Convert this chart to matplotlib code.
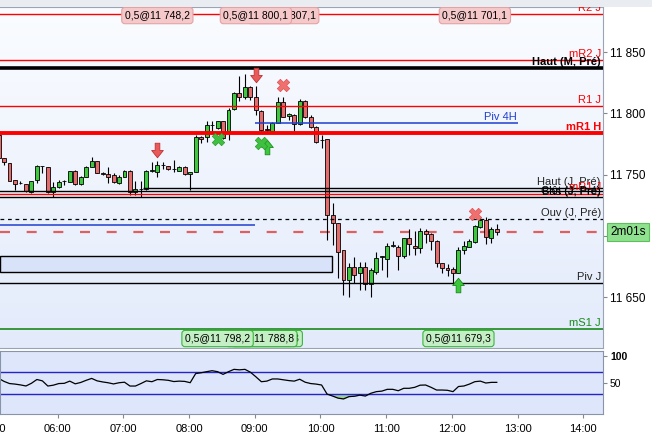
import numpy as np
import matplotlib.pyplot as plt
from matplotlib.colors import LinearSegmentedColormap
from matplotlib.path import Path
from matplotlib.patches import Rectangle
import matplotlib.transforms as mtransforms

plt.rcParams['font.family'] = ['Liberation Sans', 'DejaVu Sans']

# bougies 5 min (prix)
opens = [11782.4, 11763.6, 11759.3, 11745.7, 11743.6, 11742.4, 11736.1, 11745.7, 11757.0, 11756.0,
         11736.1, 11739.7, 11745.0, 11744.3, 11753.3, 11742.2, 11748.4, 11756.3, 11761.4, 11751.6,
         11750.5, 11749.8, 11743.0, 11748.4, 11753.3, 11735.7, 11738.1, 11738.6, 11753.3, 11752.4,
         11757.9, 11757.1, 11754.4, 11753.3, 11756.1, 11750.3, 11752.4, 11781.0, 11781.0, 11790.5,
         11788.3, 11793.8, 11785.0, 11803.3, 11816.9, 11813.1, 11821.2, 11813.1, 11802.2, 11787.0,
         11785.8, 11792.4, 11809.0, 11797.8, 11798.7, 11791.3, 11810.1, 11796.8, 11789.1, 11778.3,
         11778.9, 11717.2, 11710.4, 11688.6, 11664.2, 11674.5, 11670.1, 11675.0, 11660.9, 11670.9,
         11683.2, 11681.0, 11692.1, 11691.3, 11684.0, 11698.2, 11692.1, 11690.5, 11704.4, 11701.4,
         11696.2, 11677.8, 11674.2, 11672.9, 11670.1, 11688.6, 11691.3, 11695.4, 11707.6, 11713.1,
         11698.2, 11705.5]
highs = [11784.0, 11764.0, 11759.5, 11745.7, 11744.9, 11742.4, 11745.1, 11757.9, 11757.1, 11756.3,
         11744.0, 11745.7, 11745.5, 11753.3, 11753.5, 11748.9, 11756.8, 11764.2, 11761.6, 11752.0,
         11756.3, 11751.4, 11749.8, 11753.9, 11753.9, 11744.9, 11745.2, 11753.5, 11760.1, 11761.2,
         11760.7, 11757.1, 11762.0, 11757.1, 11757.1, 11752.2, 11782.4, 11781.5, 11793.8, 11793.8,
         11794.0, 11794.0, 11804.3, 11817.4, 11830.4, 11832.1, 11822.3, 11822.3, 11803.0, 11790.3,
         11793.0, 11813.3, 11813.3, 11800.5, 11799.5, 11811.7, 11810.9, 11798.7, 11789.6, 11782.4,
         11779.0, 11726.9, 11710.6, 11688.6, 11678.0, 11683.2, 11679.1, 11678.9, 11673.9, 11687.2,
         11683.7, 11694.6, 11696.2, 11692.7, 11698.4, 11705.5, 11704.4, 11706.3, 11705.7, 11702.7,
         11696.8, 11678.0, 11677.0, 11674.8, 11691.3, 11696.2, 11697.8, 11709.0, 11715.8, 11715.5,
         11707.4, 11709.8]
lows = [11762.0, 11757.9, 11744.9, 11737.5, 11742.4, 11735.9, 11735.1, 11743.2, 11751.4, 11735.1,
        11731.8, 11739.2, 11741.6, 11744.0, 11741.6, 11741.6, 11748.1, 11756.3, 11751.4, 11749.8,
        11743.0, 11743.0, 11742.4, 11748.1, 11733.5, 11733.5, 11732.1, 11737.5, 11752.4, 11748.1,
        11754.3, 11753.7, 11752.4, 11753.0, 11749.8, 11737.5, 11752.0, 11775.8, 11776.9, 11785.0,
        11787.5, 11779.0, 11778.0, 11802.7, 11810.5, 11812.0, 11810.9, 11798.7, 11784.8, 11784.8,
        11784.0, 11792.0, 11797.0, 11794.7, 11785.8, 11790.5, 11796.0, 11788.3, 11776.1, 11771.5,
        11696.8, 11692.7, 11665.8, 11652.0, 11650.3, 11661.7, 11656.0, 11656.0, 11650.3, 11669.2,
        11672.3, 11666.9, 11691.1, 11672.3, 11682.1, 11684.6, 11684.6, 11685.9, 11694.6, 11688.6,
        11675.0, 11670.1, 11667.7, 11660.9, 11669.8, 11685.4, 11690.9, 11694.6, 11706.6, 11693.3,
        11694.1, 11700.9]
closes = [11763.6, 11760.1, 11745.1, 11742.4, 11743.2, 11737.0, 11745.1, 11757.1, 11756.8, 11736.1,
          11739.7, 11744.3, 11745.2, 11753.3, 11742.2, 11747.9, 11756.5, 11761.4, 11751.6, 11750.3,
          11748.3, 11744.3, 11748.4, 11753.3, 11735.7, 11738.1, 11738.3, 11753.3, 11753.5, 11757.9,
          11758.0, 11754.4, 11754.5, 11756.1, 11750.3, 11752.0, 11781.0, 11778.9, 11790.3, 11790.6,
          11793.8, 11779.7, 11802.7, 11816.3, 11813.1, 11821.2, 11813.1, 11802.7, 11786.4, 11786.8,
          11792.4, 11809.0, 11797.3, 11799.2, 11791.3, 11810.1, 11796.8, 11789.1, 11776.9, 11778.1,
          11717.2, 11710.4, 11687.2, 11664.2, 11675.0, 11668.3, 11675.0, 11660.9, 11672.3, 11681.9,
          11683.3, 11692.1, 11692.2, 11683.7, 11698.2, 11693.3, 11690.5, 11704.4, 11701.4, 11696.2,
          11677.8, 11674.2, 11672.6, 11670.1, 11688.6, 11691.9, 11696.2, 11708.2, 11713.1, 11699.0,
          11705.5, 11703.7]

# oscillateur (panneau du bas)
rsi = [58.7, 53, 49, 48, 46.5, 44.5, 49.5, 56.5, 54, 44.4,
       46, 49, 49.4, 53.5, 48.5, 51, 55, 58.5, 54, 52,
       50.5, 48.3, 50.5, 51.5, 44.4, 44.4, 49, 54, 52.4, 56.5,
       56, 55, 52.7, 53.5, 53, 50.6, 67.5, 69, 71, 72.8,
       71, 66, 71, 75.3, 74.4, 75.3, 70, 61.5, 52.4, 53.5,
       57.5, 57.5, 56, 54.5, 53.5, 57, 51.5, 49, 48, 46.3,
       29.5, 25.9, 22, 20.5, 24.8, 25.5, 27.5, 25.9, 31, 34,
       35, 38.3, 38.3, 35.7, 40.2, 40.2, 42, 46, 46.3, 42,
       37, 37, 36.5, 34, 43.5, 44.5, 48, 52.5, 53.5, 50,
       51.2, 51.2]

# minutes depuis minuit, centre de la 1re bougie
times = 306 + 5 * np.arange(len(opens))

# niveaux
r2_j, mr2_j, haut_m, r1_j, mr1_h = 11881.0, 11843.5, 11837.0, 11806.0, 11784.0
piv_4h, piv_4h_prev = 11792.1, 11709.0
haut_j, clot_j, mr1_j, bas_j = 11739.2, 11736.7, 11734.3, 11731.8
ouv_j, last_price, piv_j, ms1_j = 11713.9, 11703.3, 11661.7, 11624.2

# ordres (index de bougie, texte)
sell_boxes = [(51, "0,5@11 807,1"), (46, "0,5@11 800,1"), (28, "0,5@11 748,2"), (86, "0,5@11 701,1")]
buy_boxes = [(48, "0,5@11 783,3"), (47, "0,5@11 788,8"), (39, "0,5@11 798,2"), (83, "0,5@11 679,3")]
sell_arrows = [(28, 11770.0), (46, 11831.3)]
buy_arrows = [(48, 11772.8), (83, 11660.0)]
red_exits = [(51, 11823.0), (86, 11718.0)]
green_exits = [(39, 11779.0), (47, 11776.0)]

hours = [360, 420, 480, 540, 600, 660, 720, 780, 840]
hour_labels = ["06:00", "07:00", "08:00", "09:00", "10:00", "11:00", "12:00", "13:00", "14:00"]

xmin, xmax = 307.3, 858
ymin, ymax = 11608.8, 11886.7

fig = plt.figure(figsize=(6.52, 4.37), dpi=100, facecolor="white")
fig.add_artist(Rectangle((0, 1 - 7 / 437), 1, 7 / 437, transform=fig.transFigure,
                         fc="#e9ecf0", ec="none"))

ax = fig.add_axes([0, 1 - 348 / 437, 603 / 652, 341 / 437])
ax2 = fig.add_axes([0, 1 - 414 / 437, 603 / 652, 63 / 437])

# fond dégradé
cmap = LinearSegmentedColormap.from_list("bg", ["#fafcff", "#e3ebfb"])
ax.imshow(np.linspace(0, 1, 256).reshape(-1, 1), cmap=cmap, aspect="auto",
          extent=[xmin, xmax, ymin, ymax], origin="upper", zorder=0)
ax.set_xlim(xmin, xmax)
ax.set_ylim(ymin, ymax)

# bougies
o = np.array(opens)
c = np.array(closes)
up = c >= o
colors = np.where(up, "#3ec83e", "#e46c6c")
ax.vlines(times, lows, highs, color="black", lw=0.8, zorder=2)
ax.bar(times, np.maximum(np.abs(c - o), 0.3), bottom=np.minimum(o, c), width=3.6,
       color=colors, edgecolor="black", linewidth=0.6, zorder=3)

# zone
ax.add_patch(Rectangle((xmin, 11670.7), 610.5 - xmin, 13.0, fc="#d8e3fa", ec="black",
                       lw=1, zorder=1.5))

# lignes
ax.axhline(last_price, color="#e06060", lw=1.6, ls=(0, (4.5, 7.5)), zorder=1.8)
ax.axhline(r2_j, color="red", lw=1, zorder=4)
ax.axhline(mr2_j, color="red", lw=1, zorder=4)
ax.axhline(haut_m, color="black", lw=2.6, zorder=4)
ax.axhline(r1_j, color="red", lw=1, zorder=4)
ax.hlines(piv_4h, 540, 780, color="#1f3fd0", lw=1.1, zorder=4)
ax.hlines(piv_4h_prev, xmin, 540, color="#1f3fd0", lw=1.1, zorder=4)
ax.axhline(mr1_h, color="red", lw=2.8, zorder=4)
ax.hlines(haut_j, 438, xmax, color="black", lw=1, zorder=4)
ax.axhline(clot_j, color="black", lw=1, zorder=4)
ax.axhline(mr1_j, color="red", lw=1, zorder=4)
ax.axhline(bas_j, color="black", lw=1, zorder=4)
ax.axhline(ouv_j, color="black", lw=0.9, ls=(0, (3, 3)), zorder=4)
ax.axhline(piv_j, color="black", lw=1, zorder=4)
ax.axhline(ms1_j, color="#1a8a1a", lw=1.2, zorder=4)

lx = 856
lab = dict(ha="right", va="bottom", fontsize=8, zorder=6)
ax.text(lx, r2_j + 0.8, "R2 J", color="red", **lab)
ax.text(lx, mr2_j + 0.8, "mR2 J", color="red", **lab)
ax.text(lx, haut_m + 0.8, "Haut (M, Pré)", color="black", fontweight="bold", **lab)
ax.text(lx, r1_j + 0.8, "R1 J", color="red", **lab)
ax.text(779, piv_4h + 0.8, "Piv 4H", color="#1f3fd0", **lab)
ax.text(lx, mr1_h + 0.8, "mR1 H", color="red", fontweight="bold", **lab)
ax.text(lx, haut_j + 0.8, "Haut (J, Pré)", color="#222222", **lab)
ax.text(lx, mr1_j + 1.5, "mR1 J", color="red", **lab)
ax.text(lx, clot_j - 4.2, "Clôt (J, Pré)", color="black", **lab)
ax.text(lx, bas_j - 0.3, "Bas (J, Pré)", color="black", **lab)
ax.text(lx, ouv_j + 0.8, "Ouv (J, Pré)", color="#222222", **lab)
ax.text(lx, piv_j + 0.8, "Piv J", color="#222222", **lab)
ax.text(lx, ms1_j + 0.8, "mS1 J", color="#1a8a1a", **lab)

# flèches et croix
down = Path([(-0.32, 1), (0.32, 1), (0.32, 0), (0.8, 0), (0, -1), (-0.8, 0), (-0.32, 0), (-0.32, 1)],
            [1, 2, 2, 2, 2, 2, 2, 79])
upa = Path([(-0.32, -1), (0.32, -1), (0.32, 0), (0.8, 0), (0, 1), (-0.8, 0), (-0.32, 0), (-0.32, -1)],
           [1, 2, 2, 2, 2, 2, 2, 79])
for k, p in sell_arrows:
    ax.scatter(times[k + 1], p, marker=down, s=110, fc="#e85a5a", ec="#c03030", lw=0.6, zorder=7)
for k, p in buy_arrows:
    ax.scatter(times[k + 1], p, marker=upa, s=110, fc="#3cc83c", ec="#1a8a1a", lw=0.6, zorder=7)
for k, p in red_exits:
    ax.scatter(times[k + 1], p, marker="X", s=80, fc="#f07070", ec="#e05050", lw=0.5, zorder=7)
for k, p in green_exits:
    ax.scatter(times[k + 1], p, marker="X", s=80, fc="#40c040", ec="#2a9a2a", lw=0.5, zorder=7)

# étiquettes d'ordres
for k, s in sell_boxes:
    ax.text(times[k + 1], 11879.7, s, ha="center", va="center", fontsize=7.5, zorder=8,
            bbox=dict(boxstyle="round,pad=0.3", fc="#f5c8ca", ec="#e3a3a6", lw=0.8))
for k, s in buy_boxes:
    ax.text(times[k + 1], 11616.5, s, ha="center", va="center", fontsize=7.5, zorder=8,
            bbox=dict(boxstyle="round,pad=0.3", fc="#c4eec4", ec="#3cb43c", lw=0.8))

# axe des prix
ax.yaxis.tick_right()
ax.set_yticks([11650, 11700, 11750, 11800, 11850])
ax.set_yticklabels(["11 650", "", "11 750", "11 800", "11 850"])
ax.tick_params(axis="y", length=3, pad=2, labelsize=8.5, color="#808890")
ax.set_xticks([])
ax.spines["left"].set_visible(False)
for s in ["top", "right", "bottom"]:
    ax.spines[s].set_color("#9aa4b4")

tr = mtransforms.blended_transform_factory(ax.transAxes, ax.transData)
ax.text(1.012, last_price, "2m01s", transform=tr, ha="left", va="center", fontsize=8.5,
        zorder=9, bbox=dict(boxstyle="square,pad=0.25", fc="#8fe08f", ec="#5cc05c", lw=0.8))

# panneau oscillateur
ax2.set_facecolor("#dde6fa")
ax2.set_xlim(xmin, xmax)
ax2.set_ylim(-7.4, 109.3)
ax2.axhline(70, color="#2424c8", lw=1)
ax2.axhline(30, color="#2424c8", lw=1)
r = np.array(rsi)
ax2.fill_between(times, r, 30, where=r < 30, interpolate=True, color="#9ccf9c", lw=0)
ax2.plot(times, r, color="black", lw=0.9)
ax2.yaxis.tick_right()
ax2.set_yticks([50, 100])
ax2.set_yticklabels(["50", "100"])
ax2.get_yticklabels()[1].set_fontweight("bold")
ax2.get_yticklabels()[1].set_fontsize(9)
ax2.tick_params(axis="y", length=3, pad=2, labelsize=7.5, color="#808890")
ax2.set_xticks(hours)
ax2.set_xticklabels(hour_labels)
ax2.tick_params(axis="x", length=3, pad=4, labelsize=8, color="#808890")
tr2 = mtransforms.blended_transform_factory(ax2.transData, ax2.transAxes)
ax2.text(300, -0.155, "05:00", transform=tr2, ha="center", va="top", fontsize=8, clip_on=False)
for s in ax2.spines.values():
    s.set_color("#8a94a8")

fig.savefig("out.png", dpi=100)
